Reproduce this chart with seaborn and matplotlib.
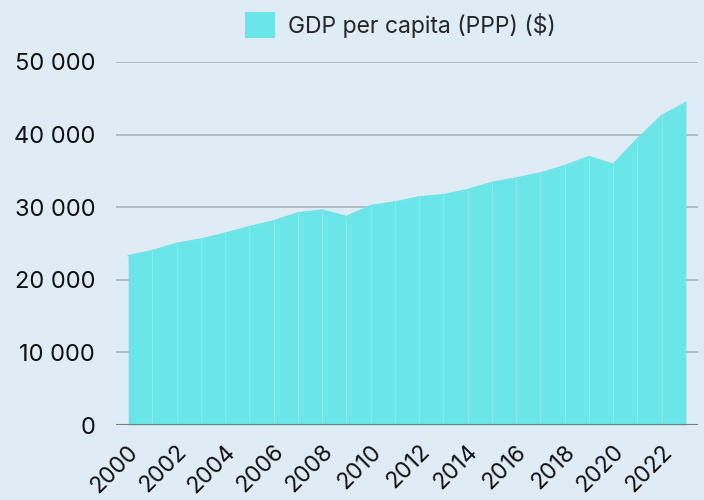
import seaborn as sns
import matplotlib.pyplot as plt
import pandas as pd
from matplotlib.transforms import ScaledTranslation

# Data
years = list(range(2000, 2024))
gdp = [23300, 24000, 25000, 25600, 26400, 27300, 28100, 29200, 29600, 28700,
       30200, 30700, 31400, 31700, 32400, 33400, 34000, 34700, 35700, 36950,
       35900, 39400, 42600, 44400]
series_name = "GDP per capita (PPP) ($)"
xtick_years = list(range(2000, 2023, 2))
ytick_vals = [0, 10000, 20000, 30000, 40000, 50000]

df = pd.DataFrame({"year": years, "gdp": gdp})

bg = "#dfecf5"
fill = "#6ae5e8"

sns.set_theme(style="white")
plt.rcParams['font.family'] = ['Inter', 'DejaVu Sans']

fig = plt.figure(figsize=(7.04, 5.0), dpi=100, facecolor=bg)
ax = fig.add_axes([116 / 704, 1 - 425 / 500, 582 / 704, 363 / 500])
ax.set_facecolor(bg)

ax.fill_between(df["year"], 0, df["gdp"], color=fill, lw=0, zorder=2, label=series_name)
sns.lineplot(data=df, x="year", y="gdp", color=fill, lw=1.2, ax=ax, zorder=3)
# faint segment lines inside the area
ax.vlines(df["year"][1:-1], 0, df["gdp"][1:-1], color="white", alpha=0.22, lw=0.8, zorder=3)

ax.set_xlim(1999.5, 2023.5)
ax.set_ylim(0, 50000)
ax.set_yticks(ytick_vals)
ax.set_yticklabels([f"{v:,}".replace(",", " ") for v in ytick_vals])
ax.set_xticks(xtick_years)
ax.set_xticklabels([str(y) for y in xtick_years], rotation=45, ha="right",
                   va="center", rotation_mode="anchor")
ax.tick_params(axis="x", length=0, pad=17, labelsize=16.5, colors="#111111")
ax.tick_params(axis="y", length=0, pad=15, labelsize=17, colors="#111111")
shift = ScaledTranslation(7 / 100, 0, fig.dpi_scale_trans)
for lab in ax.get_xticklabels():
    lab.set_transform(lab.get_transform() + shift)
ax.set_xlabel("")
ax.set_ylabel("")

for v in ytick_vals[1:]:
    ax.axhline(v, color="#a9b3bd", lw=1.2, zorder=1)
ax.axhline(0, color="#7c7c7c", lw=1.5, zorder=4)
sns.despine(ax=ax, left=True, bottom=True)

ax.legend(loc="center", bbox_to_anchor=(400 / 704, 1 - 25 / 500),
          bbox_transform=fig.transFigure, frameon=False, fontsize=16.5,
          handlelength=1.31, handleheight=1.31, handletextpad=0.57,
          borderpad=0, borderaxespad=0)

fig.savefig("out.png", dpi=100, facecolor=bg)
